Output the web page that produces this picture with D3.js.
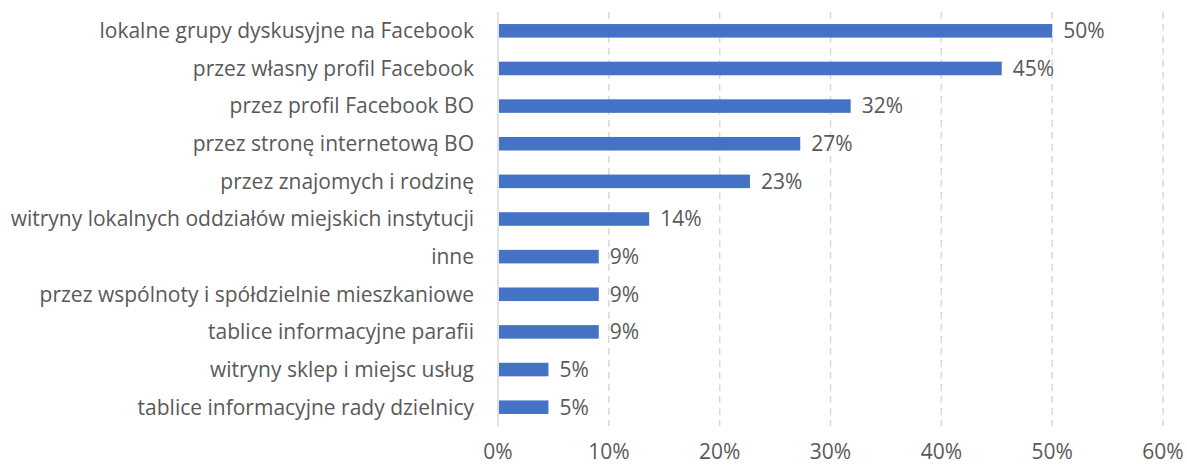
<!DOCTYPE html>
<html>
<head>
<meta charset="utf-8">
<script src="https://cdn.jsdelivr.net/npm/d3@7"></script>
<style>
  body { margin: 0; background: #fff; }
  text { font-family: "Open Sans", sans-serif; fill: #595959; }
</style>
</head>
<body>
<script>
const categories = [
  'lokalne grupy dyskusyjne na Facebook',
  'przez własny profil Facebook',
  'przez profil Facebook BO',
  'przez stronę internetową BO',
  'przez znajomych i rodzinę',
  'witryny lokalnych oddziałów miejskich instytucji',
  'inne',
  'przez wspólnoty i spółdzielnie mieszkaniowe',
  'tablice informacyjne parafii',
  'witryny sklep i miejsc usług',
  'tablice informacyjne rady dzielnicy'
];
const values = [0.5, 0.4545, 0.3182, 0.2727, 0.2273, 0.1364, 0.0909, 0.0909, 0.0909, 0.0455, 0.0455];
const ticks = [0, 0.1, 0.2, 0.3, 0.4, 0.5, 0.6];

const width = 1187, height = 465;
const margin = { top: 12, right: 24, bottom: 39, left: 498 };
const fontSize = '21px';

const svg = d3.select('body').append('svg')
  .attr('width', width)
  .attr('height', height);

const x = d3.scaleLinear().domain([0, 0.6]).range([margin.left, width - margin.right]);
const y = d3.scaleBand().domain(categories).range([margin.top, height - margin.bottom]).paddingInner(0.64).paddingOuter(0.32);

// gridlines
svg.append('g').selectAll('line')
  .data(ticks)
  .enter().append('line')
  .attr('x1', d => x(d)).attr('x2', d => x(d))
  .attr('y1', margin.top).attr('y2', height - margin.bottom)
  .attr('stroke', '#d9d9d9')
  .attr('stroke-width', 1.5)
  .attr('stroke-dasharray', d => d === 0 ? null : '7,5');

// tick labels
svg.append('g').selectAll('text')
  .data(ticks)
  .enter().append('text')
  .attr('x', d => x(d))
  .attr('y', 459)
  .attr('text-anchor', 'middle')
  .style('font-size', fontSize)
  .text(d => d3.format('.0%')(d));

// bars
svg.append('g').selectAll('rect')
  .data(values)
  .enter().append('rect')
  .attr('x', x(0) + 1)
  .attr('y', (d, i) => y(categories[i]))
  .attr('width', d => x(d) - x(0) - 1)
  .attr('height', y.bandwidth())
  .attr('fill', '#4472c4');

// value labels
svg.append('g').selectAll('text')
  .data(values)
  .enter().append('text')
  .attr('x', d => x(d) + 11)
  .attr('y', (d, i) => y(categories[i]) + y.bandwidth() / 2)
  .attr('dy', '0.35em')
  .style('font-size', fontSize)
  .text(d => d3.format('.0%')(d));

// category labels
svg.append('g').selectAll('text')
  .data(categories)
  .enter().append('text')
  .attr('x', margin.left - 24)
  .attr('y', d => y(d) + y.bandwidth() / 2)
  .attr('dy', '0.35em')
  .attr('text-anchor', 'end')
  .style('font-size', fontSize)
  .text(d => d);
</script>
</body>
</html>
